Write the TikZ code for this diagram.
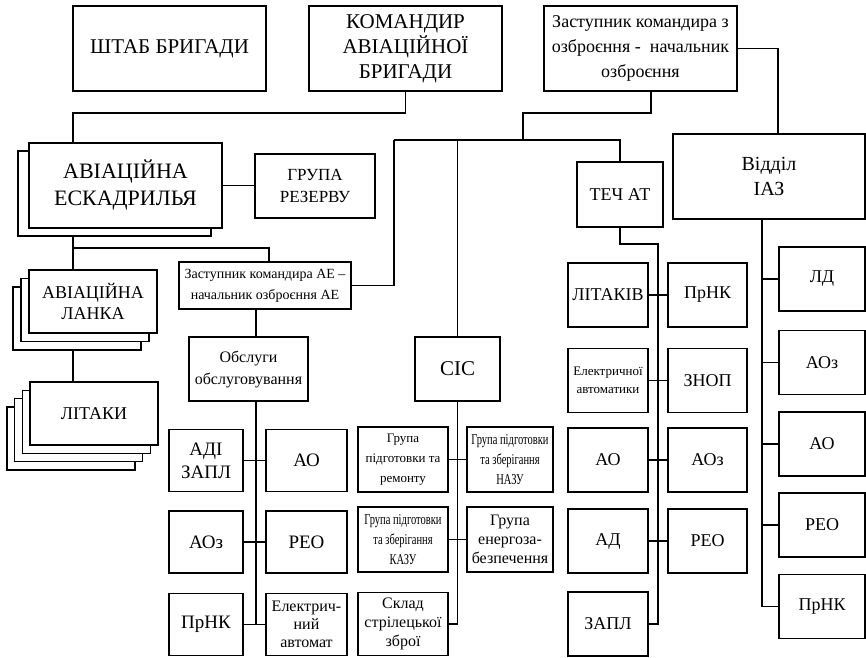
\documentclass[tikz,border=0pt]{standalone}
\usepackage{fontspec}
\setmainfont{Liberation Serif}
\newfontfamily\narrowfont[FakeStretch=0.7]{Liberation Serif}

\begin{document}
\begin{tikzpicture}[x=1pt, y=-1pt, line width=1.6pt,
    unit/.style = {draw, fill=white, inner sep=0pt, align=center},
    head/.style = {unit, minimum width=193pt, minimum height=85pt},
    big/.style = {font=\fontsize{21}{25}\selectfont},
    mid/.style = {font=\fontsize{17}{22}\selectfont},
    lbl/.style = {font=\fontsize{18}{21}\selectfont},
    note/.style = {font=\fontsize{16}{19}\selectfont},
    narrow/.style = {font=\narrowfont\fontsize{15}{20}\selectfont}]

  \useasboundingbox (0,0) rectangle (866,657);

  % Bend points of the connectors
  \coordinate (aeX) at (73,0);
  \coordinate (iazX) at (778,0);
  \coordinate (zsX) at (651,0);
  \coordinate (zaX) at (269,0);
  \coordinate (obX) at (256,0);
  \coordinate (techX) at (658,0);
  \coordinate (iazS) at (762,0);
  \coordinate (busL) at (394,140);
  \coordinate (busM) at (523,140);

  % Brigade command
  \node[head, big] (shtab) at (169.5,48.5) {ШТАБ БРИГАДИ};
  \node[head, big] (komandyr) at (405.5,48.5) {КОМАНДИР\\АВІАЦІЙНОЇ\\БРИГАДИ};
  \node[head, font=\fontsize{18}{25}\selectfont] (zastupnyk) at (640.5,48.5)
    {Заступник командира з\\озброєння -\ \ начальник\\озброєння};

  % Squadron
  \node[head] (ae2) at (114.5,193.5) {};
  \node[head, font=\fontsize{22}{27}\selectfont] (ae) at (125.5,185.5) {АВІАЦІЙНА\\ЕСКАДРИЛЬЯ};
  \node[unit, mid, minimum width=120pt, minimum height=64pt] (rezerv) at (315,186) {ГРУПА\\РЕЗЕРВУ};

  % Flight and aircraft (stacked)
  \foreach \k in {2,1}
    \node[unit, minimum width=128pt, minimum height=63pt] (lanka\k) at ({93-8*\k},{301.5+8.5*\k}) {};
  \node[unit, lbl, minimum width=128pt, minimum height=63pt] (lanka) at (93,301.5) {АВІАЦІЙНА\\ЛАНКА};
  \foreach \k in {3,2,1}
    \node[unit, minimum width=128pt, minimum height=63pt] (litaky\k) at ({94-7.7*\k},{413.5+8.3*\k}) {};
  \node[unit, lbl, minimum width=128pt, minimum height=63pt] (litaky) at (94,413.5) {ЛІТАКИ};

  % Deputies and services
  \node[unit, font=\fontsize{14}{21}\selectfont, minimum width=172pt, minimum height=47pt] (zastAE) at (265,285.5)
    {Заступник командира АЕ –\\начальник озброєння АЕ};
  \node[unit, font=\fontsize{16}{22}\selectfont, minimum width=119pt, minimum height=64pt] (obslugy) at (248.5,369) {Обслуги\\обслуговування};
  \node[unit, big, minimum width=85pt, minimum height=64pt] (sis) at (457.5,369) {СІС};
  \node[unit, lbl, minimum width=86pt, minimum height=65pt] (tech) at (620,194.5) {ТЕЧ АТ};
  \node[head, font=\fontsize{20}{25}\selectfont, minimum width=192pt] (iaz) at (769,176.5) {Відділ\\ІАЗ};

  % Maintenance crews
  \node[unit, font=\fontsize{19}{23}\selectfont, minimum width=74pt, minimum height=62pt] (o1l) at (206,460.5) {АДІ\\ЗАПЛ};
  \node[unit, font=\fontsize{19}{23}\selectfont, minimum width=81pt, minimum height=62pt] (o1r) at (306.5,460.5) {АО};
  \node[unit, font=\fontsize{19}{23}\selectfont, minimum width=74pt, minimum height=62pt] (o2l) at (206,542) {АОз};
  \node[unit, font=\fontsize{19}{23}\selectfont, minimum width=81pt, minimum height=62pt] (o2r) at (306.5,542) {РЕО};
  \node[unit, font=\fontsize{19}{23}\selectfont, minimum width=74pt, minimum height=62pt] (o3l) at (206,624.5) {ПрНК};
  \node[unit, font=\fontsize{16}{18}\selectfont, minimum width=81pt, minimum height=62pt] (o3r) at (306.5,624.5) {Електрич-\\ний\\автомат};

  % СІС groups
  \node[unit, font=\fontsize{13}{20}\selectfont, minimum width=90pt, minimum height=65pt] (s1l) at (403,459.5)
    {Група\\підготовки та\\ремонту};
  \node[unit, narrow, minimum width=86pt, minimum height=65pt] (s1r) at (510,459.5)
    {Група підготовки\\та зберігання\\НАЗУ};
  \node[unit, narrow, minimum width=90pt, minimum height=65pt] (s2l) at (403,539.5)
    {Група підготовки\\та зберігання\\КАЗУ};
  \node[unit, note, minimum width=86pt, minimum height=65pt] (s2r) at (510,539.5)
    {Група\\енергоза-\\безпечення};
  \node[unit, note, minimum width=90pt, minimum height=63pt] (s3l) at (403,624)
    {Склад\\стрілецької\\зброї};

  % ТЕЧ АТ groups
  \node[unit, lbl, minimum width=80pt, minimum height=64pt] (t1l) at (608,295) {ЛІТАКІВ};
  \node[unit, lbl, minimum width=79pt, minimum height=64pt] (t1r) at (707.5,295) {ПрНК};
  \node[unit, font=\fontsize{13}{18}\selectfont, minimum width=80pt, minimum height=64pt] (t2l) at (608,380.5)
    {Електричної\\автоматики};
  \node[unit, lbl, minimum width=79pt, minimum height=64pt] (t2r) at (707.5,380.5) {ЗНОП};
  \node[unit, lbl, minimum width=80pt, minimum height=64pt] (t3l) at (608,460) {АО};
  \node[unit, lbl, minimum width=79pt, minimum height=64pt] (t3r) at (707.5,460) {АОз};
  \node[unit, lbl, minimum width=80pt, minimum height=64pt] (t4l) at (608,541) {АД};
  \node[unit, lbl, minimum width=79pt, minimum height=64pt] (t4r) at (707.5,541) {РЕО};
  \node[unit, lbl, minimum width=80pt, minimum height=64pt] (t5l) at (608,624) {ЗАПЛ};

  % ІАЗ groups
  \node[unit, lbl, minimum width=86pt, minimum height=64pt] (iaz1) at (822,279) {ЛД};
  \node[unit, lbl, minimum width=86pt, minimum height=64pt] (iaz2) at (822,362.5) {АОз};
  \node[unit, lbl, minimum width=86pt, minimum height=64pt] (iaz3) at (822,444) {АО};
  \node[unit, lbl, minimum width=86pt, minimum height=64pt] (iaz4) at (822,525) {РЕО};
  \node[unit, lbl, minimum width=86pt, minimum height=64pt] (iaz5) at (822,606.5) {ПрНК};

  % Connectors
  \draw (komandyr.south) -- ++(0,21) -| (ae.north -| aeX);
  \draw (zastupnyk.east) -| (iaz.north -| iazX);
  \draw (zastupnyk.south -| zsX) -- ++(0,21) -| (busM);
  \draw (busL) -| (tech.north);
  \draw (busL) |- (zastAE.east);
  \draw (sis.north) -- (sis.north |- busL);
  \draw (ae.east) -- (ae.east -| rezerv.west);
  \draw (ae2.south -| aeX) -- ++(0,11) -| (zastAE.north -| zaX);
  \draw (ae2.south -| aeX) -- (lanka.north -| aeX);
  \draw (lanka2.south -| aeX) -- (litaky.north -| aeX);
  \draw (zastAE.south -| obX) -- (obslugy.north -| obX);

  \draw (obslugy.south -| obX) -- (obX |- o3l.east);
  \draw (o1l.east) -- (o1r.west);
  \draw (o2l.east) -- (o2r.west);
  \draw (o3l.east) -- (o3r.west);

  \draw (sis.south) -- (sis.south |- s3l.east) -- (s3l.east);
  \draw (s1l.east) -- (s1r.west);
  \draw (s2l.east) -- (s2r.west);

  \draw (tech.south) -- ++(0,16) -| (techX |- t5l.east) -- (t5l.east);
  \draw (t1l.east) -- (t1r.west);
  \draw (t2l.east) -- (t2r.west);
  \draw (t3l.east) -- (t3r.west);
  \draw (t4l.east) -- (t4r.west);

  \draw (iaz.south -| iazS) -- (iazS |- iaz5.west);
  \foreach \i in {1,...,5}
    \draw (iaz\i.west) -- (iaz\i.west -| iazS);

\end{tikzpicture}
\end{document}
